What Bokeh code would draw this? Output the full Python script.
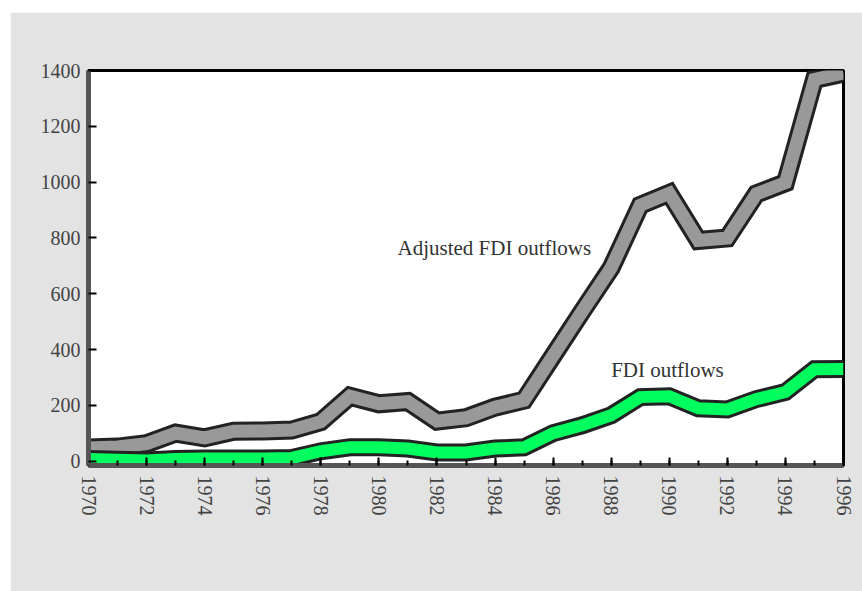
from bokeh.plotting import figure
from bokeh.models import Label, FixedTicker, Range1d
from bokeh.embed import file_html
from bokeh.resources import INLINE

years = list(range(1970, 1997))
adjusted_fdi = [48, 51, 63, 101, 84, 108, 109, 112, 142, 233, 206, 214, 144, 156, 194, 219,
                378, 537, 693, 917, 960, 791, 800, 958, 998, 1368, 1391]
fdi = [8, 6, 3, 8, 10, 10, 10, 12, 36, 50, 50, 46, 32, 32, 46, 50,
       101, 129, 165, 230, 233, 190, 186, 223, 248, 330, 331]
x_ticks = list(range(1970, 1997, 2))
x_minor = years
y_ticks = [0, 200, 400, 600, 800, 1000, 1200, 1400]

p = figure(width=852, height=579, output_backend="svg", toolbar_location=None,
           x_range=Range1d(1970, 1996), y_range=Range1d(-15, 1400),
           min_border_left=78, min_border_right=19, min_border_top=58, min_border_bottom=126)
p.margin = (12, 0, 0, 10)
p.background_fill_color = "white"
p.border_fill_color = "#e3e3e3"
p.outline_line_color = "black"
p.outline_line_width = 3
p.xgrid.visible = False
p.ygrid.visible = False

# lines with dark outline
p.line(years, adjusted_fdi, line_color="#222222", line_width=19, line_join="miter")
p.line(years, adjusted_fdi, line_color="#999999", line_width=13, line_join="miter")
p.line(years, fdi, line_color="#222222", line_width=18, line_join="miter")
p.line(years, fdi, line_color="#00ff5e", line_width=12, line_join="miter")

serif = "Liberation Serif"
p.xaxis.ticker = FixedTicker(ticks=x_ticks, minor_ticks=x_minor)
p.yaxis.ticker = FixedTicker(ticks=y_ticks)
for ax in (p.xaxis[0], p.yaxis[0]):
    ax.axis_line_color = "#555555"
    ax.axis_line_width = 5
    ax.major_tick_in = 8
    ax.major_tick_out = 0
    ax.major_tick_line_color = "black"
    ax.major_tick_line_width = 2
    ax.minor_tick_in = 5
    ax.minor_tick_out = 0
    ax.minor_tick_line_color = "black"
    ax.minor_tick_line_width = 2
    ax.major_label_text_font = serif
    ax.major_label_text_font_size = "20px"
    ax.major_label_text_color = "#444444"
p.yaxis.minor_tick_line_color = None
p.xaxis.major_label_orientation = "vertical"
p.xaxis.major_label_standoff = 10
p.yaxis.major_label_standoff = 8

p.add_layout(Label(x=1980.64, y=765, text="Adjusted FDI outflows", text_font=serif,
                   text_font_size="21px", text_color="#333333", text_baseline="middle"))
p.add_layout(Label(x=1988.0, y=327, text="FDI outflows", text_font=serif,
                   text_font_size="21px", text_color="#333333", text_baseline="middle"))

open("out.html", "w").write(file_html(p, INLINE))
